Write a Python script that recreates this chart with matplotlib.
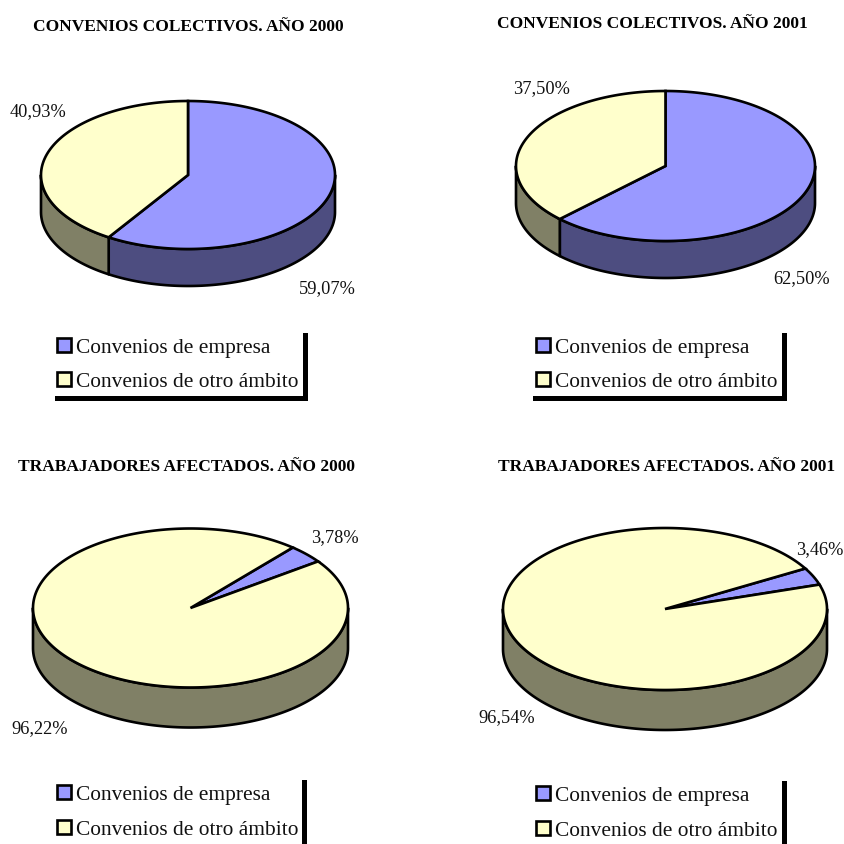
import matplotlib
matplotlib.use("Agg")
import matplotlib.pyplot as plt
from matplotlib.patches import Polygon, Rectangle
import numpy as np

plt.rcParams['font.family'] = ['Liberation Serif', 'DejaVu Serif']

# data
titles = ["CONVENIOS COLECTIVOS. AÑO 2000", "CONVENIOS COLECTIVOS. AÑO 2001",
          "TRABAJADORES AFECTADOS. AÑO 2000", "TRABAJADORES AFECTADOS. AÑO 2001"]
categories = ["Convenios de empresa", "Convenios de otro ámbito"]
empresa = [59.07, 62.50, 3.78, 3.46]
otro = [40.93, 37.50, 96.22, 96.54]
start_angles = [0, 0, 40.5, 60]

# colours
top_colours = ["#9999FF", "#FFFFCC"]
side_colours = ["#4D4D80", "#808066"]

# layout in pixels: centre x, centre y, radius x, radius y, depth
pie_boxes = [(188, 176, 147, 74, 37), (665.5, 167, 149.5, 75, 37),
             (190.5, 609, 157.5, 79.5, 40), (665, 610, 162, 81, 40)]
title_pos = [(188, 27), (652.5, 24), (186.5, 467), (666.5, 467)]
# label position for empresa and otro, left edge and middle
label_pos = [((299, 289), (10, 112)), ((773, 279), (513, 89)),
             ((311, 538), (11, 729)), ((796, 550), (478, 718))]
# swatch x, text x, first row y, second row y, bar x, bar top, bar bottom, shadow left
legend_pos = [(57, 76, 346, 380, 303, 334, 402, 55),
              (536, 555, 346, 380, 782, 334, 402, 533),
              (57, 76, 793, 828, 302, 781, 845, None),
              (536, 555, 794, 829, 782, 782, 845, None)]


def ellipse_points(box, t1, t2, drop=0):
    cx, cy, rx, ry, depth = box
    t = np.radians(np.linspace(t1, t2, max(int(abs(t2 - t1)), 2) + 1))
    return np.column_stack([cx + rx * np.sin(t), cy - ry * np.cos(t) + drop])


def draw_pie(ax, box, values, start):
    depth = box[4]
    angle = start
    spans = []
    for v in values:
        spans.append((angle, angle + v * 3.6))
        angle += v * 3.6

    # side wall, only the front half can be seen
    for i, (a, b) in enumerate(spans):
        for shift in (-360, 0, 360):
            lo = max(a + shift, 90)
            hi = min(b + shift, 270)
            if lo < hi:
                upper = ellipse_points(box, lo, hi)
                lower = ellipse_points(box, hi, lo, depth)
                ax.add_patch(Polygon(np.vstack([upper, lower]), closed=True, fc=side_colours[i],
                                     ec="black", lw=1.9, joinstyle="round"))

    # top face
    for i, (a, b) in enumerate(spans):
        arc = ellipse_points(box, a, b)
        pts = np.vstack([[box[0], box[1]], arc])
        ax.add_patch(Polygon(pts, closed=True, fc=top_colours[i], ec="black", lw=1.9, joinstyle="miter"))


def draw_legend(ax, pos):
    swatch_x, text_x, y1, y2, bar_x, bar_top, bar_bottom, shadow_left = pos
    for i, y in enumerate((y1, y2)):
        ax.add_patch(Rectangle((swatch_x, y - 7), 14, 14, fc=top_colours[i], ec="black", lw=1.9))
        ax.text(text_x, y + 2.5, categories[i], fontsize=15.4, ha="left", va="center", color="#111111")
    ax.add_patch(Rectangle((bar_x, bar_top), 5, bar_bottom - bar_top, fc="black", ec="none"))
    if shadow_left is not None:
        ax.add_patch(Rectangle((shadow_left, bar_bottom - 5), bar_x - shadow_left, 5, fc="black", ec="none"))


def pct(v):
    return f"{v:.2f}%".replace(".", ",")


fig = plt.figure(figsize=(8.45, 8.45), dpi=100)
ax = fig.add_axes([0, 0, 1, 1])
ax.set_xlim(0, 845)
ax.set_ylim(845, 0)
ax.axis("off")

for i in range(4):
    draw_pie(ax, pie_boxes[i], [empresa[i], otro[i]], start_angles[i])
    ax.text(title_pos[i][0], title_pos[i][1], titles[i], fontsize=12.5, fontweight="bold",
            ha="center", va="center", color="black")
    for (x, y), v in zip(label_pos[i], (empresa[i], otro[i])):
        ax.text(x, y, pct(v), fontsize=13.2, ha="left", va="center", color="#111111")
    draw_legend(ax, legend_pos[i])

fig.savefig("out.png", dpi=100)
